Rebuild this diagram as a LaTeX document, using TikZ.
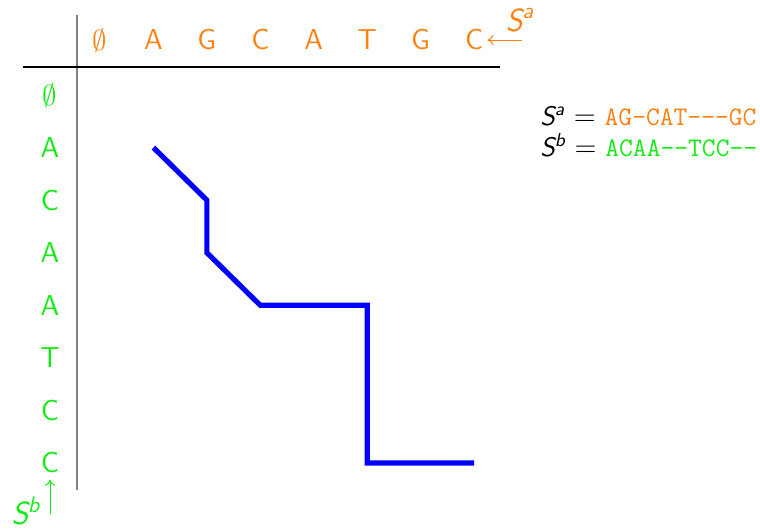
\documentclass[tikz,border=0pt]{standalone}
\usepackage{xcolor}
\usetikzlibrary{arrows.meta}
\definecolor{orng}{RGB}{250,130,20}
\definecolor{grn}{RGB}{20,235,20}
\newcommand\Sx[1]{{\sffamily\itshape S\textsuperscript{#1}}}
\begin{document}
\begin{tikzpicture}[x=0.5pt,y=-0.5pt,
  lbl/.style={font=\sffamily\fontsize{14.4}{17}\selectfont, inner sep=0},
  slbl/.style={font=\sffamily\fontsize{16}{19}\selectfont, inner sep=0},
  eq/.style={font=\fontsize{13.4}{15.5}\selectfont, inner sep=0, anchor=north west, align=left},
  arr/.style={line width=0.5pt, -{To[length=3pt,width=5pt]}},
  pathline/.style={blue, line width=2.6pt}]
\useasboundingbox (0,0) rectangle (760,531);
% axes
\draw[gray, line width=1pt] (77,15) -- (77,490);
\draw[black, line width=0.6pt] (23,67) -- (500,67);
% column labels
\foreach \t [count=\i from 0] in {$\emptyset$,A,G,C,A,T,G,C}
  \node[lbl, text=orng] (col\i) at ({100+53.43*\i},40) {\t};
% row labels
\foreach \t [count=\j from 0] in {$\emptyset$,A,C,A,A,T,C,C}
  \node[lbl, text=grn] (row\j) at (50,{95+52.57*\j}) {\t};
% sequence labels
\node[slbl, text=orng] (sa) at (520,20) {\Sx a};
\coordinate (sastart) at (522,40);
\draw[arr, orng] (sastart) -- ([xshift=2pt]col7.east);
\node[slbl, text=grn] (sb) at (26,511) {\Sx b};
\coordinate (sbstart) at (50,514);
\draw[arr, grn] (sbstart) -- ([yshift=-3pt]row7.south);
% path coordinates
\foreach \i/\j in {1/1,2/2,2/3,3/4,5/4,5/7,7/7}
  \coordinate (g-\i-\j) at ({100+53.43*\i},{95+52.57*\j});
\draw[pathline] (g-1-1) -- (g-2-2) -- (g-2-3) -- (g-3-4) -- (g-5-4) -- (g-5-7) -- (g-7-7);
% alignment text
\node[eq] (eqs) at (540,106) {\Sx a $=$ \texttt{\color{orng}AG-CAT-{}-{}-GC}\\
  \Sx b $=$ \texttt{\color{grn}ACAA-{}-TCC-{}-}};
\end{tikzpicture}
\end{document}
